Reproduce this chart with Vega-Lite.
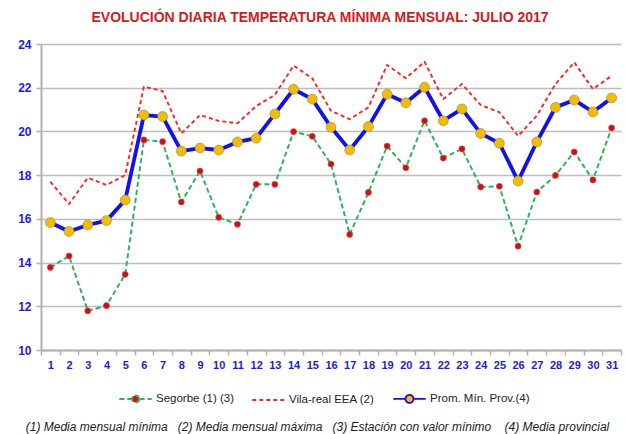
{
  "$schema": "https://vega.github.io/schema/vega-lite/v6.json",
  "width": 580,
  "height": 306,
  "autosize": "none",
  "padding": {"left": 41, "top": 44, "right": 4, "bottom": 84},
  "background": "white",
  "title": {
    "text": "EVOLUCIÓN DIARIA TEMPERATURA MÍNIMA MENSUAL: JULIO 2017",
    "font": "Liberation Sans, Arial, sans-serif",
    "fontSize": 14,
    "fontWeight": "bold",
    "color": "#d01c1c",
    "anchor": "middle",
    "frame": "group",
    "dx": -11,
    "offset": 13
  },
  "config": {
    "view": {"stroke": null},
    "legend": {
      "orient": "none",
      "legendX": 77,
      "legendY": 337,
      "direction": "horizontal",
      "symbolType": "stroke",
      "symbolSize": 1050,
      "symbolStrokeWidth": 2,
      "labelFont": "Liberation Sans, Arial, sans-serif",
      "labelFontSize": 11.5,
      "labelColor": "#222222",
      "labelOffset": 3,
      "columnPadding": 14,
      "labelLimit": 200
    }
  },
  "data": {
    "values": [
      {"day": 1, "serie": "Segorbe (1) (3)", "temp": 13.78},
      {"day": 2, "serie": "Segorbe (1) (3)", "temp": 14.3},
      {"day": 3, "serie": "Segorbe (1) (3)", "temp": 11.79},
      {"day": 4, "serie": "Segorbe (1) (3)", "temp": 12.03},
      {"day": 5, "serie": "Segorbe (1) (3)", "temp": 13.46},
      {"day": 6, "serie": "Segorbe (1) (3)", "temp": 19.61},
      {"day": 7, "serie": "Segorbe (1) (3)", "temp": 19.53},
      {"day": 8, "serie": "Segorbe (1) (3)", "temp": 16.77},
      {"day": 9, "serie": "Segorbe (1) (3)", "temp": 18.19},
      {"day": 10, "serie": "Segorbe (1) (3)", "temp": 16.07},
      {"day": 11, "serie": "Segorbe (1) (3)", "temp": 15.75},
      {"day": 12, "serie": "Segorbe (1) (3)", "temp": 17.58},
      {"day": 13, "serie": "Segorbe (1) (3)", "temp": 17.58},
      {"day": 14, "serie": "Segorbe (1) (3)", "temp": 19.99},
      {"day": 15, "serie": "Segorbe (1) (3)", "temp": 19.78},
      {"day": 16, "serie": "Segorbe (1) (3)", "temp": 18.51},
      {"day": 17, "serie": "Segorbe (1) (3)", "temp": 15.29},
      {"day": 18, "serie": "Segorbe (1) (3)", "temp": 17.21},
      {"day": 19, "serie": "Segorbe (1) (3)", "temp": 19.33},
      {"day": 20, "serie": "Segorbe (1) (3)", "temp": 18.34},
      {"day": 21, "serie": "Segorbe (1) (3)", "temp": 20.49},
      {"day": 22, "serie": "Segorbe (1) (3)", "temp": 18.78},
      {"day": 23, "serie": "Segorbe (1) (3)", "temp": 19.2},
      {"day": 24, "serie": "Segorbe (1) (3)", "temp": 17.46},
      {"day": 25, "serie": "Segorbe (1) (3)", "temp": 17.49},
      {"day": 26, "serie": "Segorbe (1) (3)", "temp": 14.75},
      {"day": 27, "serie": "Segorbe (1) (3)", "temp": 17.23},
      {"day": 28, "serie": "Segorbe (1) (3)", "temp": 17.99},
      {"day": 29, "serie": "Segorbe (1) (3)", "temp": 19.06},
      {"day": 30, "serie": "Segorbe (1) (3)", "temp": 17.78},
      {"day": 31, "serie": "Segorbe (1) (3)", "temp": 20.16},
      {"day": 1, "serie": "Vila-real EEA (2)", "temp": 17.7},
      {"day": 2, "serie": "Vila-real EEA (2)", "temp": 16.68},
      {"day": 3, "serie": "Vila-real EEA (2)", "temp": 17.88},
      {"day": 4, "serie": "Vila-real EEA (2)", "temp": 17.55},
      {"day": 5, "serie": "Vila-real EEA (2)", "temp": 18.0},
      {"day": 6, "serie": "Vila-real EEA (2)", "temp": 22.05},
      {"day": 7, "serie": "Vila-real EEA (2)", "temp": 21.85},
      {"day": 8, "serie": "Vila-real EEA (2)", "temp": 19.91},
      {"day": 9, "serie": "Vila-real EEA (2)", "temp": 20.75},
      {"day": 10, "serie": "Vila-real EEA (2)", "temp": 20.48},
      {"day": 11, "serie": "Vila-real EEA (2)", "temp": 20.37},
      {"day": 12, "serie": "Vila-real EEA (2)", "temp": 21.16},
      {"day": 13, "serie": "Vila-real EEA (2)", "temp": 21.67},
      {"day": 14, "serie": "Vila-real EEA (2)", "temp": 23.01},
      {"day": 15, "serie": "Vila-real EEA (2)", "temp": 22.43},
      {"day": 16, "serie": "Vila-real EEA (2)", "temp": 20.94},
      {"day": 17, "serie": "Vila-real EEA (2)", "temp": 20.56},
      {"day": 18, "serie": "Vila-real EEA (2)", "temp": 21.1},
      {"day": 19, "serie": "Vila-real EEA (2)", "temp": 23.04},
      {"day": 20, "serie": "Vila-real EEA (2)", "temp": 22.43},
      {"day": 21, "serie": "Vila-real EEA (2)", "temp": 23.19},
      {"day": 22, "serie": "Vila-real EEA (2)", "temp": 21.48},
      {"day": 23, "serie": "Vila-real EEA (2)", "temp": 22.17},
      {"day": 24, "serie": "Vila-real EEA (2)", "temp": 21.21},
      {"day": 25, "serie": "Vila-real EEA (2)", "temp": 20.88},
      {"day": 26, "serie": "Vila-real EEA (2)", "temp": 19.79},
      {"day": 27, "serie": "Vila-real EEA (2)", "temp": 20.72},
      {"day": 28, "serie": "Vila-real EEA (2)", "temp": 22.17},
      {"day": 29, "serie": "Vila-real EEA (2)", "temp": 23.16},
      {"day": 30, "serie": "Vila-real EEA (2)", "temp": 21.94},
      {"day": 31, "serie": "Vila-real EEA (2)", "temp": 22.54},
      {"day": 1, "serie": "Prom. Mín. Prov.(4)", "temp": 15.83},
      {"day": 2, "serie": "Prom. Mín. Prov.(4)", "temp": 15.42},
      {"day": 3, "serie": "Prom. Mín. Prov.(4)", "temp": 15.72},
      {"day": 4, "serie": "Prom. Mín. Prov.(4)", "temp": 15.92},
      {"day": 5, "serie": "Prom. Mín. Prov.(4)", "temp": 16.86},
      {"day": 6, "serie": "Prom. Mín. Prov.(4)", "temp": 20.75},
      {"day": 7, "serie": "Prom. Mín. Prov.(4)", "temp": 20.68},
      {"day": 8, "serie": "Prom. Mín. Prov.(4)", "temp": 19.1},
      {"day": 9, "serie": "Prom. Mín. Prov.(4)", "temp": 19.24},
      {"day": 10, "serie": "Prom. Mín. Prov.(4)", "temp": 19.15},
      {"day": 11, "serie": "Prom. Mín. Prov.(4)", "temp": 19.52},
      {"day": 12, "serie": "Prom. Mín. Prov.(4)", "temp": 19.69},
      {"day": 13, "serie": "Prom. Mín. Prov.(4)", "temp": 20.8},
      {"day": 14, "serie": "Prom. Mín. Prov.(4)", "temp": 21.93},
      {"day": 15, "serie": "Prom. Mín. Prov.(4)", "temp": 21.48},
      {"day": 16, "serie": "Prom. Mín. Prov.(4)", "temp": 20.19},
      {"day": 17, "serie": "Prom. Mín. Prov.(4)", "temp": 19.15},
      {"day": 18, "serie": "Prom. Mín. Prov.(4)", "temp": 20.22},
      {"day": 19, "serie": "Prom. Mín. Prov.(4)", "temp": 21.7},
      {"day": 20, "serie": "Prom. Mín. Prov.(4)", "temp": 21.31},
      {"day": 21, "serie": "Prom. Mín. Prov.(4)", "temp": 22.02},
      {"day": 22, "serie": "Prom. Mín. Prov.(4)", "temp": 20.49},
      {"day": 23, "serie": "Prom. Mín. Prov.(4)", "temp": 21.03},
      {"day": 24, "serie": "Prom. Mín. Prov.(4)", "temp": 19.91},
      {"day": 25, "serie": "Prom. Mín. Prov.(4)", "temp": 19.46},
      {"day": 26, "serie": "Prom. Mín. Prov.(4)", "temp": 17.73},
      {"day": 27, "serie": "Prom. Mín. Prov.(4)", "temp": 19.52},
      {"day": 28, "serie": "Prom. Mín. Prov.(4)", "temp": 21.1},
      {"day": 29, "serie": "Prom. Mín. Prov.(4)", "temp": 21.44},
      {"day": 30, "serie": "Prom. Mín. Prov.(4)", "temp": 20.89},
      {"day": 31, "serie": "Prom. Mín. Prov.(4)", "temp": 21.53}
    ]
  },
  "encoding": {
    "x": {
      "field": "day",
      "type": "ordinal",
      "bandPosition": 0.5,
      "scale": {"type": "band", "paddingInner": 0, "paddingOuter": 0},
      "axis": {
        "labelAngle": 0,
        "labelColor": "#1a1aee",
        "labelFont": "Liberation Sans, Arial, sans-serif",
        "labelFontWeight": "bold",
        "labelFontSize": 11,
        "labelPadding": 4,
        "domainColor": "#b0b0b0",
        "domainWidth": 2,
        "tickColor": "#b0b0b0",
        "tickSize": 5,
        "tickWidth": 1.5,
        "tickBand": "extent",
        "grid": false,
        "title": "(1) Media mensual mínima \u00a0\u00a0(2) Media mensual máxima \u00a0\u00a0(3) Estación con valor mínimo \u00a0\u00a0\u00a0(4) Media provincial",
        "titleFont": "Liberation Sans, Arial, sans-serif",
        "titleFontStyle": "italic",
        "titleFontWeight": "normal",
        "titleFontSize": 12,
        "titleColor": "#222222",
        "titleX": 276,
        "titleY": 76,
        "titleAlign": "center",
        "titleBaseline": "middle",
        "titleLimit": 700
      }
    },
    "y": {
      "field": "temp",
      "type": "quantitative",
      "scale": {"domain": [10, 24], "nice": false, "zero": false},
      "axis": {
        "values": [10, 12, 14, 16, 18, 20, 22, 24],
        "grid": true,
        "gridColor": "#bdbdbd",
        "gridWidth": 1.6,
        "domainColor": "#b0b0b0",
        "domainWidth": 2,
        "tickColor": "#b0b0b0",
        "tickSize": 5,
        "tickWidth": 1.5,
        "labelColor": "#1a1aee",
        "labelFont": "Liberation Sans, Arial, sans-serif",
        "labelFontWeight": "bold",
        "labelFontSize": 12,
        "labelPadding": 5,
        "title": null
      }
    }
  },
  "layer": [
    {
      "mark": {"type": "line", "strokeJoin": "round"},
      "encoding": {
        "color": {
          "field": "serie",
          "type": "nominal",
          "sort": null,
          "scale": {
            "domain": ["Segorbe (1) (3)", "Vila-real EEA (2)", "Prom. Mín. Prov.(4)"],
            "range": ["#2fb35c", "#ff2424", "#1010f0"]
          },
          "legend": {
            "title": null,
            "encode": {
              "symbols": {
                "update": {
                  "shape": {"signal": "datum.value === 'Vila-real EEA (2)' ? 'stroke' : (datum.value === 'Segorbe (1) (3)' ? 'M-1,0L-0.25,0M0.25,0L1,0M0.22,0A0.22,0.22 0 1,1 -0.22,0A0.22,0.22 0 1,1 0.22,0Z' : 'M-1,0L-0.25,0M0.25,0L1,0M0.25,0A0.25,0.25 0 1,1 -0.25,0A0.25,0.25 0 1,1 0.25,0Z')"},
                  "fill": {"signal": "datum.value === 'Segorbe (1) (3)' ? '#e8001c' : (datum.value === 'Prom. Mín. Prov.(4)' ? '#f5bb00' : 'transparent')"},
                  "strokeWidth": {"signal": "datum.value === 'Prom. Mín. Prov.(4)' ? 3 : 2"}
                }
              }
            }
          }
        },
        "strokeDash": {
          "field": "serie",
          "type": "nominal",
          "sort": null,
          "scale": {
            "domain": ["Segorbe (1) (3)", "Vila-real EEA (2)", "Prom. Mín. Prov.(4)"],
            "range": [[5, 3], [4, 3], [1, 0]]
          },
          "legend": {"title": null}
        },
        "strokeWidth": {
          "field": "serie",
          "type": "nominal",
          "scale": {
            "domain": ["Segorbe (1) (3)", "Vila-real EEA (2)", "Prom. Mín. Prov.(4)"],
            "range": [2, 1.8, 3.4]
          },
          "legend": null
        }
      }
    },
    {
      "transform": [{"filter": "datum.serie === 'Prom. Mín. Prov.(4)'"}],
      "mark": {"type": "line", "strokeJoin": "round", "strokeWidth": 3.8, "color": "#1010f0"},
      "encoding": {}
    },
    {
      "transform": [{"filter": "datum.serie !== 'Vila-real EEA (2)'"}],
      "mark": {"type": "point", "filled": true, "opacity": 1, "stroke": "#8a8f50", "strokeWidth": 0.6},
      "encoding": {
        "fill": {
          "field": "serie",
          "type": "nominal",
          "scale": {
            "domain": ["Segorbe (1) (3)", "Prom. Mín. Prov.(4)"],
            "range": ["#e8001c", "#f5bb00"]
          },
          "legend": null
        },
        "size": {
          "field": "serie",
          "type": "nominal",
          "scale": {
            "domain": ["Segorbe (1) (3)", "Prom. Mín. Prov.(4)"],
            "range": [38, 100]
          },
          "legend": null
        }
      }
    }
  ]
}
